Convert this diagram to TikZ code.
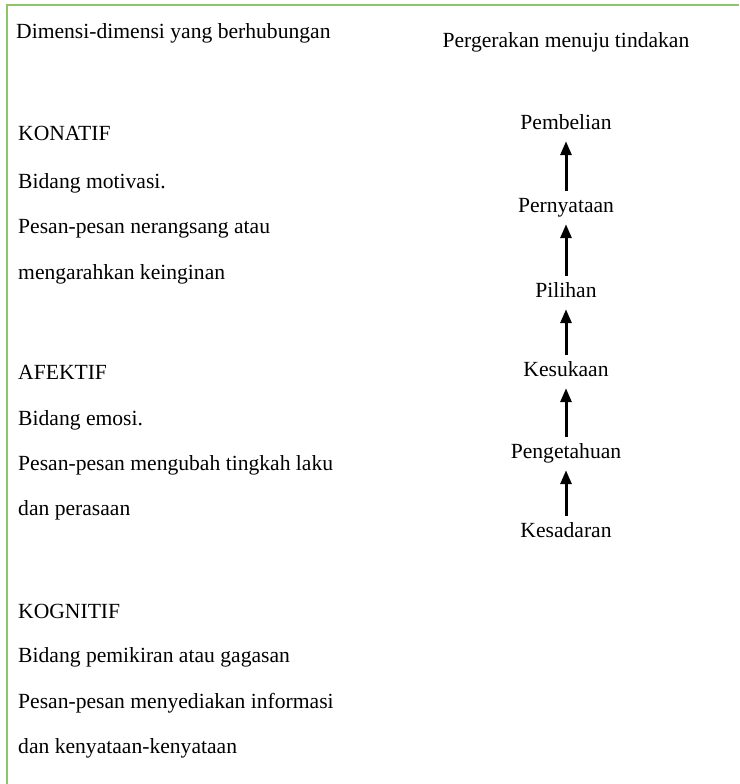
\documentclass[tikz,border=0pt]{standalone}
\usepackage{fontspec}
\setmainfont{Liberation Serif}
\usetikzlibrary{arrows.meta}
\definecolor{frame}{RGB}{140,198,104}
\tikzset{
  txt/.style={anchor=base west, inner sep=0pt, font=\fontsize{21.6}{25}\selectfont},
  stage/.style={anchor=base, inner sep=0pt, text height=15pt, text depth=5pt, font=\fontsize{21.6}{25}\selectfont},
  uparrow/.style={line width=3pt, -{Triangle[width=11pt,length=14pt]}, shorten <=6pt, shorten >=7pt},
}
\begin{document}
\begin{tikzpicture}[x=1pt,y=-1pt]
\useasboundingbox (0,0) rectangle (739,784);
\fill[white] (0,0) rectangle (739,784);
% frame lines (top and left)
\draw[frame, line width=2pt] (6.5,784) -- (6.5,5.5) -- (739,5.5);

% left column
\node[txt] (hdr) at (16,39) {Dimensi-dimensi yang berhubungan};
\node[txt] (kon) at (18,140) {KONATIF};
\node[txt] (kon1) at (18,188) {Bidang motivasi.};
\node[txt] (kon2) at (18,233) {Pesan-pesan nerangsang atau};
\node[txt] (kon3) at (18,279) {mengarahkan keinginan};
\node[txt] (afe) at (18,379) {AFEKTIF};
\node[txt] (afe1) at (18,425) {Bidang emosi.};
\node[txt] (afe2) at (18,470) {Pesan-pesan mengubah tingkah laku};
\node[txt] (afe3) at (18,515) {dan perasaan};
\node[txt] (kog) at (18,618) {KOGNITIF};
\node[txt] (kog1) at (18,662) {Bidang pemikiran atau gagasan};
\node[txt] (kog2) at (18,708) {Pesan-pesan menyediakan informasi};
\node[txt] (kog3) at (18,753) {dan kenyataan-kenyataan};

% right column
\node[stage] (move) at (566,48) {Pergerakan menuju tindakan};
\node[stage] (beli) at (566,129) {Pembelian};
\node[stage] (nyata) at (566,212) {Pernyataan};
\node[stage] (pilih) at (566,297) {Pilihan};
\node[stage] (suka) at (566,376) {Kesukaan};
\node[stage] (tahu) at (566,458) {Pengetahuan};
\node[stage] (sadar) at (566,537) {Kesadaran};

\draw[uparrow] (sadar.north) -- (tahu.south);
\draw[uparrow] (tahu.north) -- (suka.south);
\draw[uparrow] (suka.north) -- (pilih.south);
\draw[uparrow] (pilih.north) -- (nyata.south);
\draw[uparrow] (nyata.north) -- (beli.south);
\end{tikzpicture}
\end{document}
